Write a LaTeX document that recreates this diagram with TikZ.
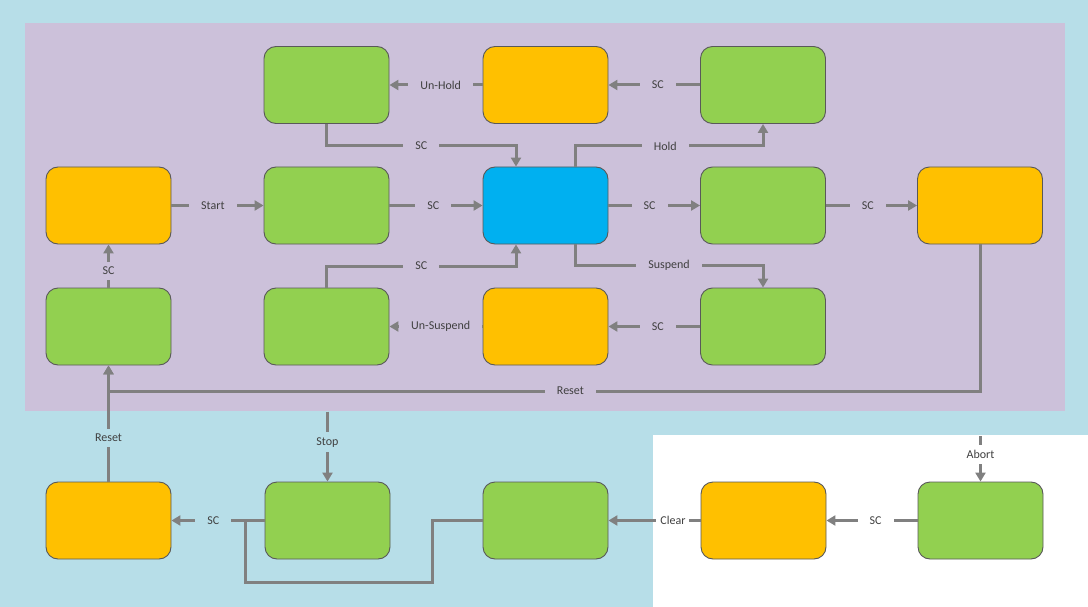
\documentclass[tikz,border=0pt]{standalone}
\usepackage{fontspec}
\setmainfont{Carlito}
\usetikzlibrary{arrows.meta}
\definecolor{bgblue}{HTML}{B7DEE8}
\definecolor{lilac}{HTML}{CCC1DA}
\definecolor{linegray}{HTML}{808080}
\definecolor{boxborder}{HTML}{595959}
\definecolor{txt}{HTML}{404040}
\definecolor{sgreen}{HTML}{92D050}
\definecolor{sorange}{HTML}{FFC000}
\definecolor{sblue}{HTML}{00B0F0}
\begin{document}
\begin{tikzpicture}[x=1pt,y=-1pt,
  state/.style={draw=boxborder, line width=0.9pt, rounded corners=12pt, minimum width=125pt, minimum height=77pt, inner sep=0pt},
  gstate/.style={state, fill=sgreen},
  ostate/.style={state, fill=sorange},
  bstate/.style={state, fill=sblue},
  conn/.style={draw=linegray, line width=3pt},
  arr/.style={conn, -{Triangle[length=9pt,width=10pt]}},
  lbl/.style={fill=lilac, text=txt, font=\fontsize{12}{14}\selectfont, inner xsep=12pt, inner ysep=5pt},
  lblb/.style={lbl, fill=bgblue},
  lblw/.style={lbl, fill=white},
]
\useasboundingbox (0,0) rectangle (1088,607);
\fill[bgblue] (0,0) rectangle (1088,607);
\fill[lilac] (25,23) rectangle (1065,410.5);
\fill[white] (653,435) rectangle (1088,607);

% states
\node[gstate] (r0c2) at (326.5,85) {};
\node[ostate] (r0c3) at (545.5,85) {};
\node[gstate] (r0c4) at (763,85) {};
\node[ostate] (r1c1) at (108.5,205.5) {};
\node[gstate] (r1c2) at (326.5,205.5) {};
\node[bstate] (r1c3) at (545.5,205.5) {};
\node[gstate] (r1c4) at (763,205.5) {};
\node[ostate] (r1c5) at (980,205.5) {};
\node[gstate] (r2c1) at (108.5,326.5) {};
\node[gstate] (r2c2) at (326.5,326.5) {};
\node[ostate] (r2c3) at (545.5,326.5) {};
\node[gstate] (r2c4) at (763,326.5) {};
\node[ostate] (r3c1) at (108.5,520.5) {};
\node[gstate] (r3c2) at (327.5,520.5) {};
\node[gstate] (r3c3) at (545.5,520.5) {};
\node[ostate] (r3c4) at (763.5,520.5) {};
\node[gstate] (r3c5) at (980.5,520.5) {};

% helper coordinates
\coordinate (holdL) at (575,146);
\coordinate (scTop) at (326.5,146);
\coordinate (scTopR) at (516,146);
\coordinate (suspL) at (575,265);
\coordinate (scBot) at (326.5,266);
\coordinate (scBotR) at (516,266);
\coordinate (resetR) at (980,391);
\coordinate (resetL) at (108.5,391);
\coordinate (stopA) at (327.5,411.5);
\coordinate (abortA) at (980.5,436);
\coordinate (routeA) at (432,520.5);
\coordinate (routeB) at (432,582);
\coordinate (routeC) at (245,582);
\coordinate (routeD) at (245,520.5);

% connectors
\draw[arr] (r1c1) -- node[lbl,pos=0.45] {Start} (r1c2);
\draw[arr] (r1c2) -- node[lbl,pos=0.47] {SC} (r1c3);
\draw[arr] (r1c3) -- node[lbl,pos=0.45] {SC} (r1c4);
\draw[arr] (r1c4) -- node[lbl,pos=0.46] {SC} (r1c5);
\draw[arr] (r1c3.north -| holdL) -- (holdL) -- node[lbl,pos=0.48] {Hold} (r0c4.south |- holdL) -- (r0c4.south);
\draw[arr] (r0c4) -- node[lbl,pos=0.46] {SC} (r0c3);
\draw[arr] (r0c3) -- node[lbl,pos=0.45] {Un-Hold} (r0c2);
\draw[arr] (r0c2.south) -- (scTop) -- node[lbl] {SC} (scTopR) -- (r1c3.north -| scTopR);
\draw[arr] (r1c3.south -| suspL) -- (suspL) -- node[lbl,pos=0.5] {Suspend} (r2c4.north |- suspL) -- (r2c4.north);
\draw[arr] (r2c4) -- node[lbl,pos=0.46] {SC} (r2c3);
\draw[arr] (r2c3) -- node[lbl,pos=0.45] {Un-Suspend} (r2c2);
\draw[arr] (r2c2.north) -- (scBot) -- node[lbl] {SC} (scBotR) -- (r1c3.south -| scBotR);
\draw[arr] (r2c1) -- node[lbl,pos=0.39] {SC} (r1c1);
\draw[arr] (r1c5.south) -- (resetR) -- node[lbl,pos=0.47] {Reset} (resetL) -- (r2c1.south);
\draw[arr] (r3c1.north) -- node[lblb,pos=0.376] {Reset} (r2c1.south);
\draw[arr] (stopA) -- node[lblb,pos=0.44] {Stop} (r3c2.north);
\draw[arr] (abortA) -- node[lblw,pos=0.41] {Abort} (r3c5.north);
\draw[arr] (r3c5) -- node[lblw,pos=0.46] {SC} (r3c4);
\draw[arr] (r3c4) -- node[lblw,pos=0.3,inner xsep=4pt] {Clear} (r3c3);
\draw[arr] (r3c2) -- node[lblb,pos=0.55] {SC} (r3c1);
\draw[conn] (r3c3.west) -- (routeA) -- (routeB) -- (routeC) -- (routeD);
\end{tikzpicture}
\end{document}
